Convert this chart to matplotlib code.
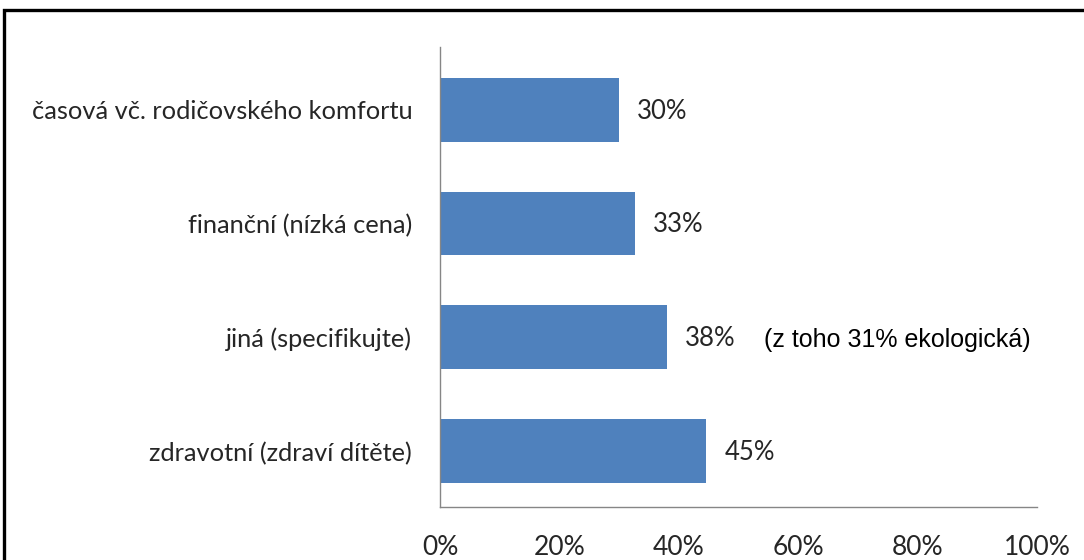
import matplotlib
matplotlib.use("Agg")
import matplotlib.pyplot as plt
from matplotlib.patches import Rectangle

categories = ["zdravotní (zdraví dítěte)", "jiná (specifikujte)",
              "finanční (nízká cena)", "časová vč. rodičovského komfortu"]
values = [0.446, 0.38, 0.327, 0.30]
value_labels = ["45%", "38%", "33%", "30%"]
xticks = [0, 0.2, 0.4, 0.6, 0.8, 1.0]
xtick_labels = ["0%", "20%", "40%", "60%", "80%", "100%"]
note = "(z toho 31% ekologická)"

W, H = 1084, 560
fig = plt.figure(figsize=(W/100, H/100), dpi=100)
fig.patch.set_facecolor("white")

# outer frame (partially cropped)
fig.add_artist(Rectangle((4/W, -0.2), 1.5, (H-10)/H + 0.2, transform=fig.transFigure,
                         fill=False, edgecolor="black", linewidth=2.4))

ax = fig.add_axes([440/W, (H-507)/H, 597/W, 460/H])
txt_color = "#262626"
font = "Lato"

y = list(range(len(categories)))
ax.barh(y, values, height=0.56, color="#4F81BD", edgecolor="none")
ax.set_xlim(0, 1.0)
ax.set_ylim(-0.49, len(categories) - 0.45)

for yi, v, lab in zip(y, values, value_labels):
    ax.annotate(lab, (v, yi), xytext=(13, -1), textcoords="offset points",
                va="center", ha="left", fontsize=18.5, family=font, color=txt_color)

ax.annotate(note, (0.38, 1), xytext=(70, -2), textcoords="offset points",
            va="center", ha="left", fontsize=18, family="Liberation Sans",
            color="black")

ax.set_yticks(y)
ax.set_yticklabels(categories, fontsize=18.3, family=font, color=txt_color)
ax.set_xticks(xticks)
ax.set_xticklabels(xtick_labels, fontsize=19, family=font, color=txt_color)
ax.tick_params(axis="y", length=0, pad=20)
ax.tick_params(axis="x", length=0, pad=20)

for s in ["top", "right"]:
    ax.spines[s].set_visible(False)
ax.spines["left"].set_color("#868686")
ax.spines["bottom"].set_color("#868686")
ax.spines["left"].set_linewidth(1)
ax.spines["bottom"].set_linewidth(1)

fig.savefig("out.png", dpi=100)
